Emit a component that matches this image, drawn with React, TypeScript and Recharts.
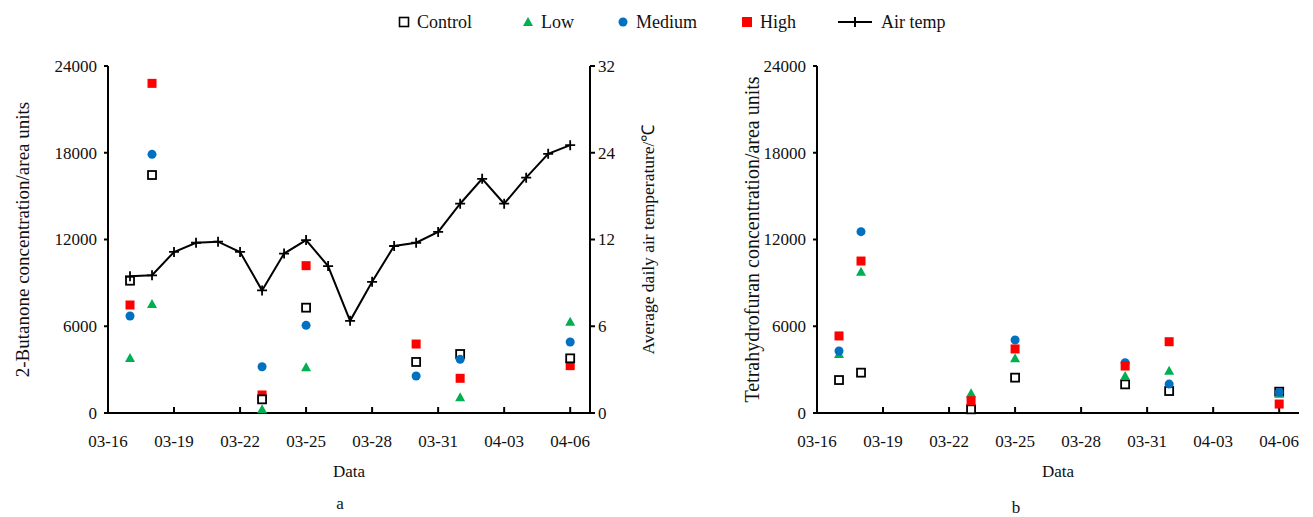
import React from 'react';
import { ComposedChart, Scatter, Line, XAxis, YAxis } from 'recharts';

// ---------- data ----------
const dateTicks = [0, 3, 6, 9, 12, 15, 18, 21];
const dateTickLabels = ['03-16', '03-19', '03-22', '03-25', '03-28', '03-31', '04-03', '04-06'];
const sampleDays = [1, 2, 7, 9, 14, 16, 21]; // days after 03-16

// 2-Butanone (area units)
const butControl = [9150, 16460, 945, 7285, 3530, 4080, 3780];
const butLow = [3800, 7540, 255, 3160, null, 1085, 6315];
const butMedium = [6710, 17890, 3200, 6065, 2560, 3710, 4910];
const butHigh = [7470, 22800, 1245, 10190, 4770, 2400, 3275];

// Tetrahydrofuran (area units)
const thfControl = [2280, 2790, 255, 2445, 1980, 1520, 1475];
const thfLow = [4080, 9770, 1360, 3780, 2560, 2930, 1330];
const thfMedium = [4290, 12540, null, 5050, 3480, 2000, 1430];
const thfHigh = [5330, 10510, 850, 4430, 3250, 4930, 620];

// Air temperature
const tempDays = [1, 2, 3, 4, 5, 6, 7, 8, 9, 10, 11, 12, 13, 14, 15, 16, 17, 18, 19, 20, 21];
const tempValues = [12.6, 12.7, 14.85, 15.7, 15.8, 14.85, 11.3, 14.7, 15.95, 13.55, 8.5, 12.1, 15.4, 15.7, 16.7, 19.3, 21.6, 19.3, 21.7, 23.9, 24.7];

const concTicks = [0, 6000, 12000, 18000, 24000];
const tempTickValues = [0, 8, 16, 24, 32];
const tempTickLabels = ['0', '6', '12', '24', '32'];

const legendNames = ['Control', 'Low', 'Medium', 'High', 'Air temp'];

// ---------- styles ----------
const FONT = "Liberation Serif, Times New Roman, serif";
const RED = '#ff0000';
const BLUE = '#0070c0';
const GREEN = '#00b050';
const INK = '#111';

const toPoints = (vals: (number | null)[]) =>
  sampleDays
    .map((d, i) => ({ day: d, v: vals[i] }))
    .filter((p) => p.v !== null && p.v !== undefined);

const tempRows = tempDays.map((d, i) => ({ day: d, temp: tempValues[i] }));

const ControlShape = (p: any) => (
  <rect x={p.cx - 4} y={p.cy - 4} width={8} height={8} fill="#fff" stroke="#000" strokeWidth={1.8} />
);
const HighShape = (p: any) => (
  <rect x={p.cx - 4.5} y={p.cy - 4.5} width={9} height={9} fill={RED} />
);
const MediumShape = (p: any) => <circle cx={p.cx} cy={p.cy} r={4.5} fill={BLUE} />;
const LowShape = (p: any) => (
  <path d={`M${p.cx},${p.cy - 5}L${p.cx + 5},${p.cy + 4}L${p.cx - 5},${p.cy + 4}Z`} fill={GREEN} />
);
const CrossDot = (p: any) => (
  <path
    key={`cross-${p.index}`}
    d={`M${p.cx - 5},${p.cy}H${p.cx + 5}M${p.cx},${p.cy - 5}V${p.cy + 5}`}
    stroke="#000"
    strokeWidth={1.8}
    fill="none"
  />
);

const axisLineStyle = { stroke: '#000', strokeWidth: 2 };
const titleStyle = { fill: INK, fontSize: 19, fontFamily: FONT, textAnchor: 'middle' as const };

const fmtDate = (v: number) => dateTickLabels[dateTicks.indexOf(v)] ?? '';
const fmtTemp = (v: number) => tempTickLabels[tempTickValues.indexOf(v)] ?? '';
const fmtPlain = (v: number) => String(v);

const makeTick = (fmt: (v: number) => string, anchor: 'start' | 'middle' | 'end', dy: string) => (props: any) => (
  <text
    x={props.x}
    y={props.y}
    dy={dy}
    textAnchor={anchor}
    fill={INK}
    fontSize={17}
    style={{ fontFamily: FONT }}
  >
    {fmt(props.payload.value)}
  </text>
);

const dateTick = makeTick(fmtDate, 'middle', '0.71em');
const concTick = makeTick(fmtPlain, 'end', '0.34em');
const tempTick = makeTick(fmtTemp, 'start', '0.34em');

const renderXAxis = () => (
  <XAxis
    dataKey="day"
    type="number"
    domain={[0, 21.9]}
    ticks={dateTicks}
    allowDataOverflow
    interval={0}
    height={70}
    tickSize={-6}
    tickMargin={28}
    axisLine={axisLineStyle}
    tickLine={axisLineStyle}
    tick={dateTick}
    label={{ value: 'Data', position: 'insideBottom', offset: 6, style: { ...titleStyle, fontSize: 17 } }}
  />
);

const LegendRow = () => {
  const icons = [
    <svg width={14} height={14}><rect x={2.5} y={2.5} width={9} height={9} fill="#fff" stroke="#000" strokeWidth={1.6} /></svg>,
    <svg width={14} height={14}><path d="M7,2L12,11L2,11Z" fill={GREEN} /></svg>,
    <svg width={14} height={14}><circle cx={7} cy={7} r={4.5} fill={BLUE} /></svg>,
    <svg width={14} height={14}><rect x={2} y={2} width={10} height={10} fill={RED} /></svg>,
    <svg width={36} height={14}><path d="M1,7H35M18,2V12" stroke="#000" strokeWidth={2} /></svg>,
  ];
  const lefts = [397, 521, 616, 740, 837];
  return (
    <div style={{ position: 'absolute', left: 0, top: 0, width: 1313, height: 45 }}>
      {legendNames.map((n, i) => (
        <div
          key={n}
          style={{
            position: 'absolute',
            left: lefts[i],
            top: 11,
            display: 'flex',
            alignItems: 'center',
            fontFamily: FONT,
            fontSize: 18,
            color: INK,
            whiteSpace: 'nowrap',
            lineHeight: '22px',
          }}
        >
          {icons[i]}
          <span style={{ marginLeft: i === 4 ? 8 : 6 }}>{n}</span>
        </div>
      ))}
    </div>
  );
};

export default function App() {
  return (
    <div style={{ position: 'absolute', left: 0, top: 0, width: 1313, height: 517, background: '#fff', fontFamily: FONT }}>
      <LegendRow />
      <div style={{ position: 'absolute', left: 0, top: 0 }}>
        <ComposedChart width={700} height={517} margin={{ top: 66, right: 40, bottom: 34, left: 0 }}>
          {renderXAxis()}
          <YAxis
            yAxisId="conc"
            domain={[0, 24000]}
            ticks={concTicks}
            interval={0}
            width={108}
            tickSize={4}
            tickMargin={7}
            axisLine={axisLineStyle}
            tickLine={axisLineStyle}
            tick={concTick}
            label={{ value: '2-Butanone concentration/area units', angle: -90, position: 'insideLeft', offset: 22, style: titleStyle }}
          />
          <YAxis
            yAxisId="temp"
            orientation="right"
            domain={[0, 32]}
            ticks={tempTickValues}
            interval={0}
            width={70}
            tickSize={5}
            tickMargin={3}
            axisLine={axisLineStyle}
            tickLine={axisLineStyle}
            tick={tempTick}
            label={{ value: 'Average daily air temperature/℃', angle: -90, position: 'insideRight', offset: 12, style: { ...titleStyle, fontSize: 17.5 } }}
          />
          <Scatter name="Low" yAxisId="conc" data={toPoints(butLow)} dataKey="v" shape={LowShape} isAnimationActive={false} />
          <Scatter name="High" yAxisId="conc" data={toPoints(butHigh)} dataKey="v" shape={HighShape} isAnimationActive={false} />
          <Scatter name="Control" yAxisId="conc" data={toPoints(butControl)} dataKey="v" shape={ControlShape} isAnimationActive={false} />
          <Scatter name="Medium" yAxisId="conc" data={toPoints(butMedium)} dataKey="v" shape={MediumShape} isAnimationActive={false} />
          <Line
            name="Air temp"
            yAxisId="temp"
            data={tempRows}
            dataKey="temp"
            type="linear"
            stroke="#000"
            strokeWidth={2}
            dot={CrossDot}
            activeDot={false}
            isAnimationActive={false}
          />
        </ComposedChart>
      </div>
      <div style={{ position: 'absolute', left: 700, top: 0 }}>
        <ComposedChart width={613} height={517} margin={{ top: 66, right: 14, bottom: 34, left: 0 }}>
          {renderXAxis()}
          <YAxis
            yAxisId="conc"
            domain={[0, 24000]}
            ticks={concTicks}
            interval={0}
            width={117}
            tickSize={4}
            tickMargin={7}
            axisLine={axisLineStyle}
            tickLine={axisLineStyle}
            tick={concTick}
            label={{ value: 'Tetrahydrofuran concentration/area units', angle: -90, position: 'insideLeft', offset: 52, style: { ...titleStyle, fontSize: 20 } }}
          />
          <Scatter name="Control" yAxisId="conc" data={toPoints(thfControl)} dataKey="v" shape={ControlShape} isAnimationActive={false} />
          <Scatter name="Low" yAxisId="conc" data={toPoints(thfLow)} dataKey="v" shape={LowShape} isAnimationActive={false} />
          <Scatter name="Medium" yAxisId="conc" data={toPoints(thfMedium)} dataKey="v" shape={MediumShape} isAnimationActive={false} />
          <Scatter name="High" yAxisId="conc" data={toPoints(thfHigh)} dataKey="v" shape={HighShape} isAnimationActive={false} />
        </ComposedChart>
      </div>
      <div style={{ position: 'absolute', left: 330, top: 494, width: 20, textAlign: 'center', fontFamily: FONT, fontSize: 17, color: INK }}>a</div>
      <div style={{ position: 'absolute', left: 1006, top: 498, width: 20, textAlign: 'center', fontFamily: FONT, fontSize: 17, color: INK }}>b</div>
    </div>
  );
}
